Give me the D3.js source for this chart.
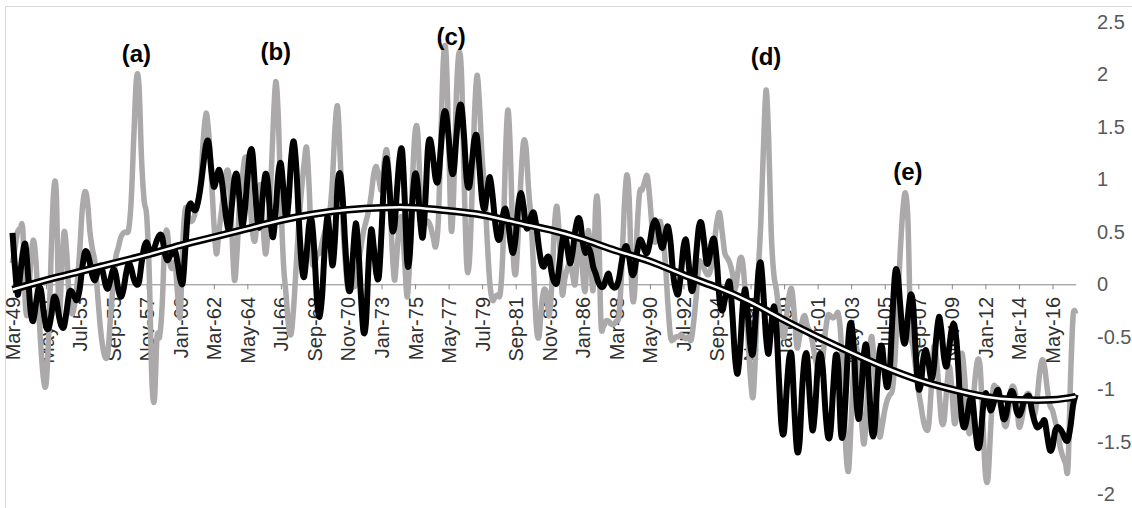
<!DOCTYPE html>
<html>
<head>
<meta charset="utf-8">
<script src="https://cdn.jsdelivr.net/npm/d3@7"></script>
<style>
  html, body { margin: 0; padding: 0; background: #ffffff; }
  svg { display: block; }
</style>
</head>
<body>
<svg id="chart" width="1132" height="508"></svg>
<script>
// Bimonthly index, starting Mar-1949 (one value every two months)
const grayValues = [
  0.20, 0.35, 0.50, 0.53, 0.52, -0.20, -0.25, 0.20, 0.42, 0.25,
  -0.20, -0.60, -0.90, -0.95, -0.50, 0.30, 0.90, 0.85, -0.30, 0.10,
  0.50, 0.30, -0.15, -0.28, -0.20, 0.00, 0.30, 0.70, 0.88, 0.80,
  0.50, 0.33, 0.20, -0.10, -0.40, -0.60, -0.70, -0.65, -0.30, 0.00,
  0.25, 0.35, 0.45, 0.49, 0.50, 0.52, 0.80, 1.40, 1.95, 1.90,
  1.20, 0.80, 0.65, 0.10, -0.90, -1.10, -0.50, -0.50, -0.20, 0.40,
  0.50, 0.20, 0.15, 0.20, -0.10, -0.30, 0.40, 0.72, 0.65, 0.60,
  0.62, 0.70, 0.80, 1.00, 1.40, 1.63, 1.45, 1.06, 0.60, 0.29,
  0.50, 0.70, 0.90, 1.08, 1.00, 0.50, 0.04, 0.30, 0.80, 1.00,
  1.20, 1.15, 0.80, 0.50, 0.42, 0.70, 0.95, 0.60, 0.29, 0.50,
  0.90, 1.50, 1.93, 1.60, 0.80, 0.20, -0.10, -0.40, -0.47, -0.20,
  0.20, 0.60, 0.90, 1.15, 1.30, 0.90, 0.25, 0.20, 0.28, 0.30,
  0.40, 0.50, 0.60, 0.70, 1.00, 1.50, 1.69, 1.20, 0.60, 0.20,
  -0.05, -0.05, -0.02, 0.00, 0.20, 0.35, 0.50, 0.60, 0.70, 0.85,
  1.05, 1.12, 1.00, 0.90, 1.15, 1.28, 1.00, 0.40, 0.04, 0.30,
  0.60, 0.60, 0.20, -0.12, 0.30, 1.00, 1.45, 1.45, 0.90, 0.60,
  0.60, 0.60, 0.55, 0.45, 0.36, 0.60, 1.40, 2.15, 2.20, 1.40,
  0.52, 0.90, 1.80, 2.20, 2.00, 1.00, 0.20, 0.20, 0.80, 1.60,
  1.99, 1.70, 1.20, 0.90, 0.40, 0.00, -0.15, -0.12, -0.10, -0.09,
  0.30, 1.20, 1.66, 1.20, 0.30, 0.10, 0.50, 1.00, 1.35, 1.30,
  0.90, 0.60, 0.10, -0.40, -0.50, -0.20, -0.05, -0.10, -0.30, 0.00,
  0.55, 0.74, 0.40, -0.09, 0.05, 0.15, 0.20, 0.10, 0.00, 0.30,
  0.52, 0.10, -0.05, 0.50, 0.30, -0.05, 0.75, 0.70, -0.35, -0.40,
  -0.35, -0.35, -0.38, -0.38, -0.35, -0.30, 0.10, 0.70, 1.04, 0.80,
  -0.05, -0.10, 0.50, 0.87, 0.90, 0.98, 1.03, 0.80, 0.50, 0.40,
  0.50, 0.60, 0.45, 0.20, -0.20, -0.50, -0.53, -0.50, -0.50, -0.48,
  -0.50, -0.52, -0.50, -0.53, -0.35, -0.10, 0.20, 0.20, 0.15, 0.10,
  0.10, 0.20, 0.40, 0.60, 0.68, 0.50, 0.30, 0.25, 0.20, 0.10,
  -0.05, 0.10, 0.25, 0.20, -0.10, -0.50, -0.90, -1.07, -0.60, 0.10,
  0.60, 1.30, 1.85, 1.40, 0.50, 0.10, -0.05, -0.25, -0.45, -0.50,
  -0.30, -0.10, -0.05, -0.30, -0.60, -0.50, -0.35, -0.30, -0.40, -0.45,
  -0.55, -0.70, -0.80, -0.85, -0.70, -0.45, -0.30, -0.30, -0.32, -0.30,
  -0.28, -0.50, -1.00, -1.60, -1.77, -1.30, -0.80, -0.60, -0.90, -1.30,
  -1.52, -1.20, -0.70, -0.50, -0.80, -1.20, -1.45, -1.35, -1.20, -1.10,
  -1.05, -1.00, -0.70, -0.20, 0.30, 0.70, 0.87, 0.60, -0.40, -0.60,
  -0.80, -1.00, -1.15, -1.30, -1.38, -1.35, -1.00, -0.60, -0.70, -1.00,
  -1.30, -1.30, -1.00, -0.78, -1.00, -1.32, -1.20, -0.80, -0.66, -0.90,
  -1.30, -1.42, -1.20, -0.90, -0.72, -0.80, -1.30, -1.80, -1.85, -1.40,
  -1.00, -0.98, -1.00, -1.10, -1.30, -1.35, -1.20, -1.00, -0.98, -1.10,
  -1.35, -1.30, -1.15, -1.05, -1.05, -1.15, -1.25, -1.10, -0.85, -0.72,
  -0.80, -1.00, -1.15, -1.20, -1.30, -1.40, -1.55, -1.64, -1.70, -1.75,
  -0.90, -0.30, -0.28
];

const blackValues = [
  0.49, 0.15, -0.10, 0.10, 0.30, 0.38, 0.10, -0.25, -0.35, -0.20,
  -0.05, -0.05, -0.25, -0.40, -0.42, -0.30, -0.13, -0.15, -0.30, -0.40,
  -0.40, -0.25, -0.08, -0.07, -0.12, -0.15, -0.05, 0.15, 0.30, 0.30,
  0.20, 0.08, 0.04, 0.12, 0.18, 0.12, 0.00, -0.04, 0.05, 0.14,
  0.10, -0.05, -0.12, -0.05, 0.10, 0.20, 0.15, 0.05, 0.00, 0.02,
  0.20, 0.35, 0.40, 0.33, 0.30, 0.35, 0.42, 0.47, 0.45, 0.30,
  0.23, 0.27, 0.30, 0.32, 0.20, 0.05, 0.02, 0.35, 0.70, 0.77,
  0.72, 0.71, 0.80, 0.95, 1.15, 1.33, 1.35, 1.10, 0.93, 1.00,
  1.09, 1.00, 0.80, 0.60, 0.52, 0.75, 1.00, 1.04, 0.80, 0.56,
  0.70, 1.00, 1.25, 1.25, 0.90, 0.60, 0.56, 0.85, 1.05, 0.95,
  0.60, 0.45, 0.70, 1.05, 1.15, 0.90, 0.62, 0.80, 1.20, 1.36,
  1.10, 0.60, 0.20, 0.07, 0.30, 0.58, 0.60, 0.30, -0.15, -0.31,
  -0.10, 0.35, 0.64, 0.45, 0.18, 0.45, 0.95, 1.05, 0.80, 0.35,
  0.00, -0.04, 0.30, 0.58, 0.35, -0.10, -0.45, -0.35, 0.20, 0.52,
  0.35, 0.10, 0.08, 0.50, 1.00, 1.20, 0.95, 0.55, 0.55, 0.90,
  1.20, 1.27, 0.80, 0.20, 0.30, 0.80, 1.05, 0.95, 0.60, 0.45,
  0.80, 1.30, 1.37, 1.20, 1.00, 1.00, 1.30, 1.60, 1.63, 1.40,
  1.10, 1.08, 1.40, 1.66, 1.69, 1.40, 1.00, 0.93, 1.15, 1.38,
  1.40, 1.10, 0.80, 0.72, 0.90, 1.02, 0.85, 0.60, 0.44, 0.45,
  0.65, 0.72, 0.60, 0.40, 0.30, 0.45, 0.75, 0.87, 0.75, 0.55,
  0.55, 0.65, 0.68, 0.55, 0.35, 0.20, 0.17, 0.25, 0.25, 0.10,
  0.02, 0.02, 0.20, 0.40, 0.49, 0.35, 0.20, 0.30, 0.50, 0.62,
  0.60, 0.40, 0.30, 0.35, 0.30, 0.17, 0.10, 0.02, -0.02, -0.02,
  0.05, 0.10, 0.00, -0.03, -0.02, 0.05, 0.20, 0.33, 0.36, 0.25,
  0.10, 0.12, 0.30, 0.42, 0.40, 0.32, 0.30, 0.40, 0.55, 0.61,
  0.55, 0.40, 0.35, 0.48, 0.55, 0.40, 0.10, -0.05, -0.09, 0.10,
  0.35, 0.42, 0.20, -0.05, 0.00, 0.30, 0.55, 0.58, 0.40, 0.20,
  0.25, 0.40, 0.42, 0.20, -0.15, -0.25, -0.15, -0.02, 0.01, -0.30,
  -0.70, -0.85, -0.60, -0.20, -0.05, -0.30, -0.60, -0.65, -0.30, 0.10,
  0.20, -0.10, -0.50, -0.66, -0.40, -0.21, -0.40, -0.90, -1.35, -1.40,
  -1.00, -0.70, -0.70, -1.20, -1.58, -1.50, -1.00, -0.70, -0.70, -1.10,
  -1.39, -1.20, -0.80, -0.66, -0.80, -1.20, -1.45, -1.40, -1.00, -0.68,
  -0.80, -1.40, -1.40, -1.00, -0.50, -0.37, -0.60, -1.10, -1.28, -1.00,
  -0.65, -0.60, -1.00, -1.40, -1.40, -1.00, -0.65, -0.60, -0.85, -0.98,
  -0.80, -0.30, 0.10, 0.10, -0.20, -0.50, -0.55, -0.30, -0.10, -0.20,
  -0.65, -0.98, -0.95, -0.70, -0.63, -0.75, -0.90, -0.80, -0.50, -0.31,
  -0.45, -0.70, -0.78, -0.60, -0.42, -0.39, -0.60, -1.00, -1.30, -1.36,
  -1.25, -1.10, -1.10, -1.35, -1.55, -1.50, -1.20, -1.04, -1.10, -1.20,
  -1.15, -1.05, -1.01, -1.15, -1.28, -1.25, -1.10, -1.02, -1.05, -1.20,
  -1.25, -1.20, -1.10, -1.07, -1.07, -1.20, -1.30, -1.36, -1.35, -1.32,
  -1.30, -1.45, -1.58, -1.55, -1.40, -1.36, -1.38, -1.42, -1.48, -1.48,
  -1.35, -1.15, -1.05
];

// Long-term trend, sampled at every labelled category and at the last one
const trendValues = [
  -0.05, 0.04, 0.12, 0.20, 0.28, 0.37, 0.45, 0.53, 0.61, 0.67, 0.71,
  0.73, 0.73, 0.70, 0.66, 0.59, 0.52, 0.43, 0.32, 0.22, 0.09, -0.03,
  -0.17, -0.34, -0.50, -0.65, -0.79, -0.91, -1.00, -1.07, -1.10, -1.10,
  -1.07
];

const tickLabels = [
  "Mar-49", "May-51", "Jul-53", "Sep-55", "Nov-57", "Jan-60", "Mar-62", "May-64",
  "Jul-66", "Sep-68", "Nov-70", "Jan-73", "Mar-75", "May-77", "Jul-79", "Sep-81",
  "Nov-83", "Jan-86", "Mar-88", "May-90", "Jul-92", "Sep-94", "Nov-96", "Jan-99",
  "Mar-01", "May-03", "Jul-05", "Sep-07", "Nov-09", "Jan-12", "Mar-14", "May-16"
];

const yTicks = [-2, -1.5, -1, -0.5, 0, 0.5, 1, 1.5, 2, 2.5];

// Event labels and the category / level where each one sits
const eventLabels = ["(a)", "(b)", "(c)", "(d)", "(e)"];
const eventCategory = ["Mar-57", "Mar-66", "Jul-77", "Nov-97", "Jan-07"];
const eventLevel = [2.117, 2.136, 2.279, 2.089, 0.993];

// Category names: one every two months from Mar-1949
const monthNames = ["Jan","Feb","Mar","Apr","May","Jun","Jul","Aug","Sep","Oct","Nov","Dec"];
const categories = grayValues.map((_, i) => {
  const m = 2 + 2 * i;
  const yr = (1949 + Math.floor(m / 12)) % 100;
  return monthNames[m % 12] + "-" + String(yr).padStart(2, "0");
});

const W = 1132, H = 508;
const FONT = "'Liberation Sans', Arial, sans-serif";
const svg = d3.select("#chart");

const x = d3.scalePoint()
  .domain(categories)
  .range([12.5, 1075.7]);

const y = d3.scaleLinear()
  .domain([-2, 2.5])
  .range([494.3, 21.8]);

// chart-area outline (only top and left edges fall inside the canvas)
svg.append("rect")
  .attr("x", 5.5).attr("y", 6.5)
  .attr("width", W + 20).attr("height", H + 20)
  .attr("fill", "none")
  .attr("stroke", "#d9d9d9")
  .attr("stroke-width", 1);

// category axis crossing at zero
const xAxis = d3.axisBottom(x)
  .tickValues(tickLabels)
  .tickSize(5)
  .tickSizeOuter(0);

const gx = svg.append("g")
  .attr("transform", `translate(0,${y(0)})`)
  .call(xAxis);
gx.select(".domain").attr("stroke", "#878787").attr("stroke-width", 1);
gx.selectAll(".tick line").attr("stroke", "#878787");
gx.selectAll(".tick text")
  .attr("transform", "rotate(-90)")
  .attr("text-anchor", "end")
  .attr("x", -12.7)
  .attr("y", 0)
  .attr("dy", "0.35em")
  .attr("fill", "#303030")
  .style("font-family", FONT)
  .style("font-size", "20px");

// value axis on the right, labels only
const yAxis = d3.axisRight(y)
  .tickValues(yTicks)
  .tickSize(0)
  .tickPadding(0)
  .tickFormat(d => String(d));

const gy = svg.append("g")
  .attr("transform", "translate(1097,0)")
  .call(yAxis);
gy.select(".domain").remove();
gy.selectAll(".tick text")
  .attr("fill", "#595959")
  .style("font-family", FONT)
  .style("font-size", "20px");

// series
const lineGen = d3.line()
  .x((d, i) => x(categories[i]))
  .y(d => y(d))
  .curve(d3.curveCardinal.tension(0));

svg.append("path")
  .datum(grayValues)
  .attr("d", lineGen)
  .attr("fill", "none")
  .attr("stroke", "#aba9a9")
  .attr("stroke-width", 5.5)
  .attr("stroke-linejoin", "round");

svg.append("path")
  .datum(blackValues)
  .attr("d", lineGen)
  .attr("fill", "none")
  .attr("stroke", "#000000")
  .attr("stroke-width", 6)
  .attr("stroke-linejoin", "round");

// trend line drawn as a double stroke
const trendCats = tickLabels.concat([categories[categories.length - 1]]);
const trendGen = d3.line()
  .x((d, i) => x(trendCats[i]))
  .y(d => y(d))
  .curve(d3.curveNatural);

svg.append("path")
  .datum(trendValues)
  .attr("d", trendGen)
  .attr("fill", "none")
  .attr("stroke", "#000000")
  .attr("stroke-width", 7.5);

svg.append("path")
  .datum(trendValues)
  .attr("d", trendGen)
  .attr("fill", "none")
  .attr("stroke", "#ffffff")
  .attr("stroke-width", 2.5);

// event labels
svg.append("g")
  .selectAll("text")
  .data(eventLabels)
  .join("text")
  .attr("x", (d, i) => x(eventCategory[i]))
  .attr("y", (d, i) => y(eventLevel[i]))
  .attr("text-anchor", "middle")
  .attr("fill", "#000000")
  .style("font-family", FONT)
  .style("font-weight", "bold")
  .style("font-size", "24px")
  .text(d => d);
</script>
</body>
</html>
